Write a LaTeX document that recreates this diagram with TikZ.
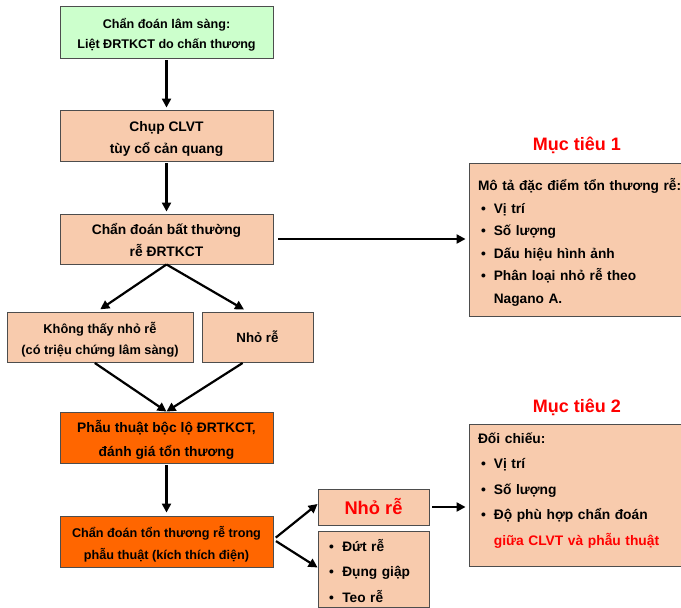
\documentclass[tikz,border=0pt]{standalone}
\usepackage{fontspec}
\setmainfont{Liberation Sans}
\usetikzlibrary{arrows.meta,positioning,calc}
\definecolor{paleGreen}{HTML}{CCFFCC}
\definecolor{peach}{HTML}{F8CBAD}
\definecolor{deepOrange}{HTML}{FF6600}
\definecolor{edgeGray}{HTML}{4D4D4D}
\tikzset{
	flowbox/.style={draw=edgeGray, line width=0.9pt, fill=peach, align=center, inner sep=0pt},
	listbox/.style={flowbox, align=left, inner xsep=9pt},
	link/.style={line width=2.2pt, -{Triangle[length=9pt,width=9pt]}},
	goaltitle/.style={text=red, font=\bfseries\fontsize{18}{22}\selectfont},
}
\newcommand{\bul}{\hspace{3pt}•}
\newcommand{\shiftink}[2]{\raisebox{#1}[\height][\depth]{#2}}
\newcommand{\pair}[2]{\shiftink{-2.5pt}{\begin{tabular}{@{}c@{}}#1\\#2\end{tabular}}}
\begin{document}
\begin{tikzpicture}[x=1pt,y=-1pt]
	\useasboundingbox (0,0) rectangle (681,608);
	% main column
	\node [flowbox, fill=paleGreen, minimum width=213, minimum height=52, font=\bfseries\fontsize{12.6}{19.5}\selectfont] (clin) at (166.5,32) {\pair{Chẩn đoán lâm sàng:}{Liệt ĐRTKCT do chấn thương}};
	\node [flowbox, minimum width=213, minimum height=51, font=\bfseries\fontsize{13.8}{22}\selectfont] (ct) at (166.5,135.5) {\pair{Chụp CLVT}{tùy cổ cản quang}};
	\node [flowbox, minimum width=213, minimum height=50, font=\bfseries\fontsize{13.8}{22}\selectfont] (abn) at (166.5,239) {\pair{Chẩn đoán bất thường}{rễ ĐRTKCT}};
	\node [flowbox, minimum width=186, minimum height=50, font=\bfseries\fontsize{12.8}{21}\selectfont] (noav) at (100,337) {\pair{Không thấy nhỏ rễ}{(có triệu chứng lâm sàng)}};
	\node [flowbox, minimum width=111, minimum height=50, font=\bfseries\fontsize{13.3}{20}\selectfont] (avul) at (257.5,337) {Nhỏ rễ};
	\node [flowbox, fill=deepOrange, minimum width=213, minimum height=51, font=\bfseries\fontsize{13.8}{23.5}\selectfont] (surg) at (166.5,437.5) {\pair{Phẫu thuật bộc lộ ĐRTKCT,}{đánh giá tổn thương}};
	\node [flowbox, fill=deepOrange, minimum width=213, minimum height=51, font=\bfseries\fontsize{12.65}{22}\selectfont] (intra) at (166.5,541.5) {\pair{Chẩn đoán tổn thương rễ trong}{phẫu thuật (kích thích điện)}};
	% findings in surgery
	\node [flowbox, minimum width=111, minimum height=36, text=red, font=\bfseries\fontsize{18.3}{20}\selectfont] (avred) at (373.5,507) {Nhỏ rễ};
	\node [listbox, text width=95, minimum height=73, inner xsep=8pt, font=\bfseries\fontsize{13.7}{25.5}\selectfont] (kinds) at (373.5,569.5) {\shiftink{-2pt}{%
		\begin{tabular}{@{}l@{\hspace{8.5pt}}l@{}}
			\bul & Đứt rễ\\
			\bul & Đụng giập\\
			\bul & Teo rễ
		\end{tabular}}};
	% goals
	\node [listbox, text width=196, minimum height=153, font=\bfseries\fontsize{13.7}{22.5}\selectfont] (goal1) at (576,239.5) {\shiftink{-3pt}{%
		\begin{tabular}{@{}l@{\hspace{8pt}}l@{}}
			\multicolumn{2}{@{}l@{}}{Mô tả đặc điểm tổn thương rễ:}\\
			\bul & Vị trí\\
			\bul & Số lượng\\
			\bul & Dấu hiệu hình ảnh\\
			\bul & Phân loại nhỏ rễ theo\\
			& Nagano A.
		\end{tabular}}};
	\node [listbox, text width=196, minimum height=142, font=\bfseries\fontsize{13.8}{25.5}\selectfont] (goal2) at (576,495) {\shiftink{6pt}{%
		\begin{tabular}{@{}l@{\hspace{8pt}}l@{}}
			\multicolumn{2}{@{}l@{}}{Đối chiếu:}\\
			\bul & Vị trí\\
			\bul & Số lượng\\
			\bul & Độ phù hợp chẩn đoán\\
			& \textcolor{red}{giữa CLVT và phẫu thuật}
		\end{tabular}}};
	\node [goaltitle] (title1) at (577,145) {Mục tiêu 1};
	\node [goaltitle] (title2) at (577,407) {Mục tiêu 2};
	% connectors
	\draw [link, shorten <=2pt, shorten >=2pt] (clin) -- (ct);
	\draw [link, shorten <=2pt, shorten >=2pt] (ct) -- (abn);
	\draw [link, shorten >=4pt] (abn.south) -- ([xshift=-3pt]noav.north);
	\draw [link, shorten >=4pt] (abn.south) -- ([xshift=-10pt]avul.north);
	\draw [link, shorten <=1pt] ([xshift=-6pt]noav.south) -- (surg.north);
	\draw [link, shorten <=1pt] ([xshift=-14pt]avul.south) -- (surg.north);
	\draw [link, shorten <=2pt, shorten >=3pt] (surg) -- (intra);
	\draw [link, shorten <=3pt] ([yshift=2pt]intra.east) -- ([yshift=3pt]avred.west);
	\draw [link, shorten <=3pt] ([yshift=2pt]intra.east) -- ([yshift=2pt]kinds.west);
	\draw [link, shorten <=3pt, shorten >=3pt] (avred.east) -- (avred.east -| goal2.west);
	\draw [link, shorten <=5pt, shorten >=3pt] (abn.east) -- (abn.east -| goal1.west);
\end{tikzpicture}
\end{document}
